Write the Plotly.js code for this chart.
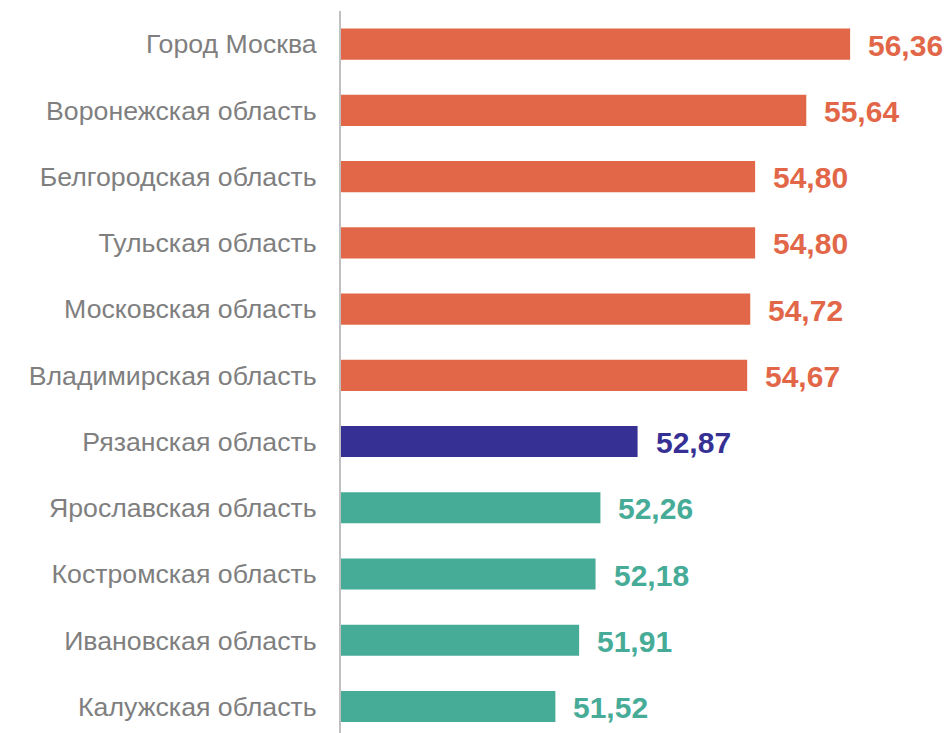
<!DOCTYPE html>
<html>
<head>
<meta charset="utf-8">
<script src="https://cdn.plot.ly/plotly-3.0.1.min.js"></script>
<style>
  html, body { margin: 0; padding: 0; background: #ffffff; }
  #plot { width: 952px; height: 733px; }
</style>
</head>
<body>
<div id="plot"></div>
<script>
// Регионы сверху вниз
const regions = [
  'Город Москва',
  'Воронежская область',
  'Белгородская область',
  'Тульская область',
  'Московская область',
  'Владимирская область',
  'Рязанская область',
  'Ярославская область',
  'Костромская область',
  'Ивановская область',
  'Калужская область'
];

const values = [56.36, 55.64, 54.80, 54.80, 54.72, 54.67, 52.87, 52.26, 52.18, 51.91, 51.52];

// группа: выше / Рязанская / ниже
const groups = ['high', 'high', 'high', 'high', 'high', 'high', 'self', 'low', 'low', 'low', 'low'];

const groupColors = { high: '#e26748', self: '#363094', low: '#46ab97' };

const barColors = groups.map(g => groupColors[g]);
const fmt = v => v.toFixed(2).replace('.', ',');

const barTrace = {
  type: 'bar',
  orientation: 'h',
  x: values,
  y: regions,
  marker: { color: barColors },
  hoverinfo: 'skip',
  showlegend: false
};

// подписи значений справа от столбцов
const annotations = values.map((v, i) => ({
  x: v,
  y: regions[i],
  xref: 'x',
  yref: 'y',
  text: '<b>' + fmt(v) + '</b>',
  showarrow: false,
  xanchor: 'left',
  yanchor: 'middle',
  xshift: 16,
  yshift: -1,
  font: { family: 'Liberation Sans, Arial, sans-serif', size: 30, color: barColors[i] }
}));

const layout = {
  width: 952,
  height: 733,
  margin: { l: 341, r: 2, t: 11, b: 0 },
  paper_bgcolor: '#ffffff',
  plot_bgcolor: '#ffffff',
  bargap: 0.53,
  font: { family: 'Liberation Sans, Arial, sans-serif' },
  xaxis: {
    range: [48, 58],
    showgrid: false,
    zeroline: false,
    showticklabels: false,
    showline: false
  },
  yaxis: {
    type: 'category',
    range: [10.4, -0.5],
    showgrid: false,
    zeroline: false,
    showline: true,
    linecolor: '#c0c0c0',
    linewidth: 2,
    ticks: '',
    ticklabelstandoff: 17,
    tickfont: { size: 26.7, color: '#7f7f7f' }
  },
  annotations: annotations
};

Plotly.newPlot('plot', [barTrace], layout, { displayModeBar: false, staticPlot: true });
</script>
</body>
</html>
